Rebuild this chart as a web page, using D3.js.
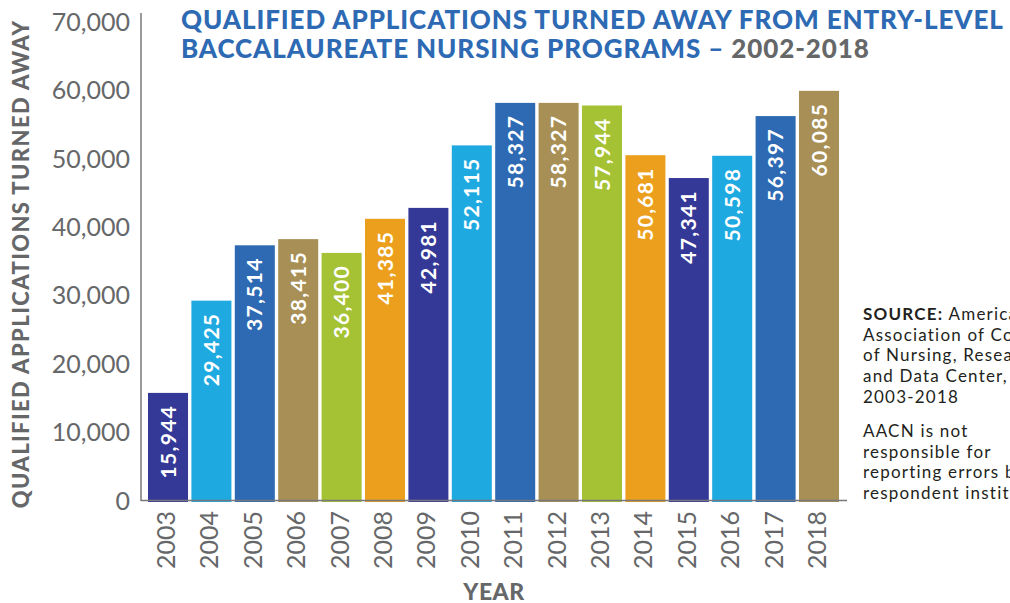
<!DOCTYPE html>
<html>
<head>
<meta charset="utf-8">
<script src="https://cdn.jsdelivr.net/npm/d3@7"></script>
<style>
  body { margin: 0; background: #fff; }
  text { font-family: Lato, "Open Sans", sans-serif; }
</style>
</head>
<body>
<svg id="chart" width="1010" height="603"></svg>
<script>
var years = ["2003", "2004", "2005", "2006", "2007", "2008", "2009", "2010",
    "2011", "2012", "2013", "2014", "2015", "2016", "2017", "2018"];
var turnedAway = [15944, 29425, 37514, 38415, 36400, 41385, 42981, 52115,
    58327, 58327, 57944, 50681, 47341, 50598, 56397, 60085];
var yTicks = [0, 10000, 20000, 30000, 40000, 50000, 60000, 70000];
var palette = ["#343896", "#1fa9e1", "#2d6ab3", "#a88f55", "#a5c234", "#eb9f1c"];
var sourceLines = ["American", "Association of Colleges", "of Nursing, Research",
    "and Data Center,", "2003-2018"];
var noteLines = ["AACN is not", "responsible for", "reporting errors by", "respondent institutions."];

var svg = d3.select("#chart");
var grey = "#666769";

var x = d3.scaleBand()
    .domain(years)
    .range([148, 839])
    .paddingInner(0.078)
    .paddingOuter(0);

var y = d3.scaleLinear()
    .domain([0, 70000])
    .range([502, 23]);

var fmt = d3.format(",");

// bars
svg.append("g").selectAll("rect")
    .data(years)
    .enter().append("rect")
    .attr("x", function(d) { return x(d); })
    .attr("width", x.bandwidth())
    .attr("y", function(d, i) { return y(turnedAway[i]); })
    .attr("height", function(d, i) { return y(0) - y(turnedAway[i]); })
    .attr("fill", function(d, i) { return palette[i % palette.length]; });

// value labels inside bars
svg.append("g").selectAll("text")
    .data(years)
    .enter().append("text")
    .attr("transform", function(d, i) {
        return "translate(" + (x(d) + x.bandwidth() / 2) + "," + (y(turnedAway[i]) + 12) + ") rotate(-90)";
    })
    .attr("dy", "0.36em")
    .attr("text-anchor", "end")
    .attr("fill", "#fff")
    .attr("font-weight", 700)
    .attr("font-size", 21)
    .attr("letter-spacing", 1.3)
    .text(function(d, i) { return fmt(turnedAway[i]); });

// axes lines
svg.append("line")
    .attr("x1", 141).attr("x2", 141)
    .attr("y1", 13).attr("y2", 501)
    .attr("stroke", "#77787b").attr("stroke-width", 1.5);
svg.append("line")
    .attr("x1", 141).attr("x2", 847)
    .attr("y1", 500.5).attr("y2", 500.5)
    .attr("stroke", "#77787b").attr("stroke-width", 1.5);

// y tick labels
svg.append("g").selectAll("text")
    .data(yTicks)
    .enter().append("text")
    .attr("x", 130)
    .attr("y", function(d) { return y(d) - 1; })
    .attr("dy", "0.35em")
    .attr("text-anchor", "end")
    .attr("fill", grey)
    .attr("font-size", 25)
    .text(function(d) { return fmt(d); });

// x tick labels
svg.append("g").selectAll("text")
    .data(years)
    .enter().append("text")
    .attr("transform", function(d) {
        return "translate(" + (x(d) + x.bandwidth() / 2 - 2) + ",511) rotate(-90)";
    })
    .attr("dy", "0.36em")
    .attr("text-anchor", "end")
    .attr("fill", grey)
    .attr("font-size", 25)
    .text(function(d) { return d; });

// axis titles
svg.append("text")
    .attr("transform", "translate(21,264) rotate(-90)")
    .attr("dy", "0.36em")
    .attr("text-anchor", "middle")
    .attr("fill", grey)
    .attr("font-weight", 900)
    .attr("font-size", 22)
    .attr("letter-spacing", 1.4)
    .text("QUALIFIED APPLICATIONS TURNED AWAY");

svg.append("text")
    .attr("x", 494)
    .attr("y", 600)
    .attr("text-anchor", "middle")
    .attr("fill", grey)
    .attr("font-weight", 900)
    .attr("font-size", 23)
    .attr("letter-spacing", 0.5)
    .text("YEAR");

// title
var title = svg.append("text")
    .attr("fill", "#2d6ab3")
    .attr("font-weight", 900)
    .attr("font-size", 26)
    .attr("letter-spacing", 0.9);
title.append("tspan")
    .attr("x", 181).attr("y", 29)
    .text("QUALIFIED APPLICATIONS TURNED AWAY FROM ENTRY-LEVEL");
title.append("tspan")
    .attr("x", 181).attr("y", 58)
    .text("BACCALAUREATE NURSING PROGRAMS – ");
title.append("tspan")
    .attr("fill", grey)
    .text("2002-2018");

// source note
var note = svg.append("g")
    .attr("fill", "#231f20")
    .attr("font-size", 17)
    .attr("letter-spacing", 1.2);
var src = note.append("text").attr("x", 863).attr("y", 320);
src.append("tspan").attr("font-weight", 700).text("SOURCE: ");
src.append("tspan").text(sourceLines[0]);
sourceLines.slice(1).forEach(function(line, i) {
    note.append("text").attr("x", 863).attr("y", 320 + (i + 1) * 20.7).text(line);
});
noteLines.forEach(function(line, i) {
    note.append("text").attr("x", 863).attr("y", 437 + i * 20.7).text(line);
});
</script>
</body>
</html>
